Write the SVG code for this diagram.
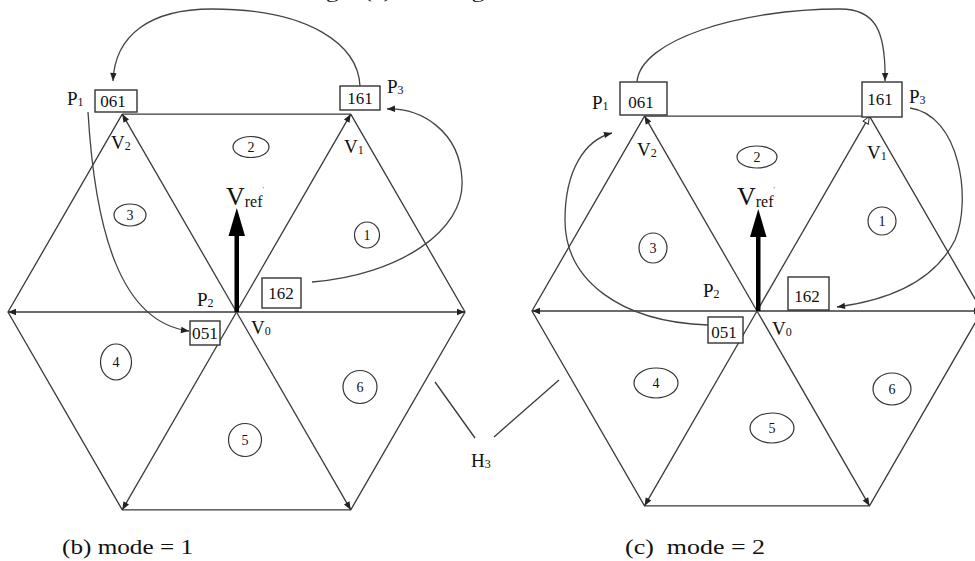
<svg xmlns="http://www.w3.org/2000/svg" width="975" height="561" viewBox="0 0 975 561">
<style>
.ln{fill:none;stroke:#3a3a3a;stroke-width:1.3}
.vec{fill:none;stroke:#3a3a3a;stroke-width:1.3;marker-end:url(#ah)}
.arc{fill:none;stroke:#444;stroke-width:1.3}
.box{fill:#fff;stroke:#333;stroke-width:1.4}
.t{font-family:"Liberation Serif","Times New Roman",serif;fill:#111}
.num{font-family:"Liberation Serif","Times New Roman",serif;fill:#111;font-size:17px;text-anchor:middle}
.lab{font-family:"Liberation Serif","Times New Roman",serif;fill:#111;font-size:19px}
.sec{font-family:"Liberation Serif","Times New Roman",serif;fill:#111;font-size:14px;text-anchor:middle}
.ell{fill:none;stroke:#333;stroke-width:1.2}
.vref{fill:#000}
</style>
<defs>
<marker id="ah" viewBox="0 0 10 10" refX="10" refY="5" markerWidth="11" markerHeight="8" markerUnits="userSpaceOnUse" orient="auto"><path d="M0,1 L10,5 L0,9 z" fill="#222"/></marker>
<marker id="ahh" viewBox="0 0 10 10" refX="10" refY="5" markerWidth="11" markerHeight="8" markerUnits="userSpaceOnUse" orient="auto"><path d="M0.5,1.2 L9.5,5 L0.5,8.8 z" fill="#fff" stroke="#222" stroke-width="1.2"/></marker>
</defs>
<rect width="975" height="561" fill="#fff"/>

<text class="t" x="305" y="-2" font-size="17" textLength="385" lengthAdjust="spacingAndGlyphs">Fig 3 (a) Rotating the reference vector</text>

<!-- Left panel: hexagon and vectors -->
<g id="hex-left">
  <polyline class="ln" points="122.25,114.1 8,312 122.25,509.9 350.75,509.9 465,312 350.75,114.1"/>
  <line class="ln" x1="122.25" y1="114.1" x2="350.75" y2="114.1"/>
  <line class="vec" x1="236.5" y1="312" x2="465" y2="312"/>
  <line class="vec" x1="236.5" y1="312" x2="8" y2="312"/>
  <line class="vec" x1="236.5" y1="312" x2="350.75" y2="114.1"/>
  <line class="vec" x1="236.5" y1="312" x2="122.25" y2="114.1"/>
  <line class="vec" x1="236.5" y1="312" x2="122.25" y2="509.9"/>
  <line class="vec" x1="236.5" y1="312" x2="350.75" y2="509.9"/>
</g>
<g id="vref-left">
  <rect class="vref" x="234.5" y="234" width="4.5" height="78"/>
  <path class="vref" d="M236.8,208 L245,236 L228.5,236 z"/>
  <text class="t" x="226" y="205" font-size="26">V<tspan font-size="16" dy="2">ref</tspan><tspan font-size="7" dy="-16">'</tspan></text>
</g>
<g id="sectors-left">
  <ellipse class="ell" cx="367" cy="235" rx="12.5" ry="13"/><text class="sec" x="367" y="240">1</text>
  <ellipse class="ell" cx="251" cy="147" rx="18" ry="10.5"/><text class="sec" x="251" y="152">2</text>
  <ellipse class="ell" cx="130" cy="215" rx="16" ry="11"/><text class="sec" x="130" y="220">3</text>
  <ellipse class="ell" cx="116" cy="362" rx="15.5" ry="18"/><text class="sec" x="116" y="367">4</text>
  <ellipse class="ell" cx="245" cy="440" rx="16.5" ry="16.5"/><text class="sec" x="245" y="445">5</text>
  <ellipse class="ell" cx="360" cy="387" rx="17" ry="16.5"/><text class="sec" x="360" y="392">6</text>
</g>
<g id="node-061-left"><rect class="box" x="95" y="90" width="42" height="22"/><text class="num" x="113" y="107">061</text></g>
<g id="node-161-left"><rect class="box" x="340" y="86" width="40" height="24"/><text class="num" x="360" y="104">161</text></g>
<g id="node-162-left"><rect class="box" x="262" y="278" width="39" height="30"/><text class="num" x="281" y="299">162</text></g>
<g id="node-051-left"><rect class="box" x="190" y="321" width="30" height="24"/><text class="num" x="205" y="339" textLength="26" lengthAdjust="spacingAndGlyphs">051</text></g>
<g id="labels-left">
  <text class="lab" x="67" y="105">P<tspan font-size="12" dy="1">1</tspan></text>
  <text class="lab" x="387" y="93">P<tspan font-size="12" dy="1">3</tspan></text>
  <text class="lab" x="111" y="149">V<tspan font-size="12" dy="1">2</tspan></text>
  <text class="lab" x="344" y="153">V<tspan font-size="12" dy="1">1</tspan></text>
  <text class="lab" x="197" y="306">P<tspan font-size="12" dy="1">2</tspan></text>
  <text class="lab" x="251" y="334">V<tspan font-size="12" dy="1">0</tspan></text>
</g>

<!-- Right panel -->
<g id="hex-right">
  <polyline class="ln" points="644.5,116.1 532,311 644.5,505.9 869.5,505.9 982,311 869.5,116.1"/>
  <line class="ln" x1="644.5" y1="116.1" x2="869.5" y2="116.1"/>
  <line class="vec" x1="757" y1="311" x2="982" y2="311"/>
  <line class="vec" x1="757" y1="311" x2="532" y2="311"/>
  <line class="ln" x1="757" y1="311" x2="869.5" y2="116.1" marker-end="url(#ahh)"/>
  <line class="vec" x1="757" y1="311" x2="644.5" y2="116.1"/>
  <line class="vec" x1="757" y1="311" x2="644.5" y2="505.9"/>
  <line class="vec" x1="757" y1="311" x2="869.5" y2="505.9"/>
</g>
<g id="vref-right">
  <rect class="vref" x="756" y="234" width="4.5" height="77"/>
  <path class="vref" d="M758.3,209 L766.5,237 L750,237 z"/>
  <text class="t" x="737" y="205" font-size="26">V<tspan font-size="16" dy="2">ref</tspan><tspan font-size="7" dy="-16">'</tspan></text>
</g>
<g id="sectors-right">
  <ellipse class="ell" cx="882" cy="221" rx="14" ry="14"/><text class="sec" x="882" y="226">1</text>
  <ellipse class="ell" cx="757" cy="157" rx="20" ry="11"/><text class="sec" x="757" y="162">2</text>
  <ellipse class="ell" cx="653" cy="248" rx="14" ry="15"/><text class="sec" x="653" y="253">3</text>
  <ellipse class="ell" cx="656" cy="383" rx="22" ry="15"/><text class="sec" x="656" y="388">4</text>
  <ellipse class="ell" cx="772" cy="428" rx="22" ry="15"/><text class="sec" x="772" y="433">5</text>
  <ellipse class="ell" cx="892" cy="389" rx="19" ry="16"/><text class="sec" x="892" y="394">6</text>
</g>
<g id="node-061-right"><rect class="box" x="620" y="82" width="47" height="33"/><text class="num" x="641" y="108">061</text></g>
<g id="node-161-right"><rect class="box" x="862" y="82" width="40" height="35"/><text class="num" x="880" y="105">161</text></g>
<g id="node-162-right"><rect class="box" x="788" y="277" width="41" height="33"/><text class="num" x="807" y="302">162</text></g>
<g id="node-051-right"><rect class="box" x="708" y="317" width="35" height="26"/><text class="num" x="724" y="338">051</text></g>
<g id="labels-right">
  <text class="lab" x="592" y="109">P<tspan font-size="12" dy="1">1</tspan></text>
  <text class="lab" x="909" y="103">P<tspan font-size="12" dy="1">3</tspan></text>
  <text class="lab" x="637" y="156">V<tspan font-size="12" dy="1">2</tspan></text>
  <text class="lab" x="867" y="159">V<tspan font-size="12" dy="1">1</tspan></text>
  <text class="lab" x="703" y="297">P<tspan font-size="12" dy="1">2</tspan></text>
  <text class="lab" x="772" y="335">V<tspan font-size="12" dy="1">0</tspan></text>
</g>

<!-- Connectors -->
<g id="connectors">
  <path class="arc" d="M360,86 C358,45 310,9 212,9 C150,9 115,35 113,81" marker-end="url(#ah)"/>
  <path class="arc" d="M88,112 C95,230 120,322 189,331" marker-end="url(#ah)"/>
  <path class="arc" d="M312,282 C400,275 465,230 462,180 C460,130 420,108 387,109" marker-end="url(#ah)"/>
  <path class="arc" d="M637,82 C640,40 740,9 840,9 C875,9 886,30 885,81" marker-end="url(#ah)"/>
  <path class="arc" d="M708,325 C620,322 565,280 565,220 C565,170 585,140 612,133" marker-end="url(#ah)"/>
  <path class="arc" d="M910,108 C960,115 972,200 955,240 C935,280 890,300 837,307" marker-end="url(#ah)"/>
  <line class="ln" x1="435" y1="382" x2="475" y2="438"/>
  <line class="ln" x1="494" y1="437" x2="559" y2="380"/>
</g>
<g id="node-H3"><text class="lab" x="471" y="467">H<tspan font-size="12" dy="1">3</tspan></text></g>

<text class="t" x="62" y="554" font-size="20" textLength="131" lengthAdjust="spacingAndGlyphs">(b) mode = 1</text>
<text class="t" x="625" y="554" font-size="20" textLength="140" lengthAdjust="spacingAndGlyphs" xml:space="preserve">(c)  mode = 2</text>
</svg>
